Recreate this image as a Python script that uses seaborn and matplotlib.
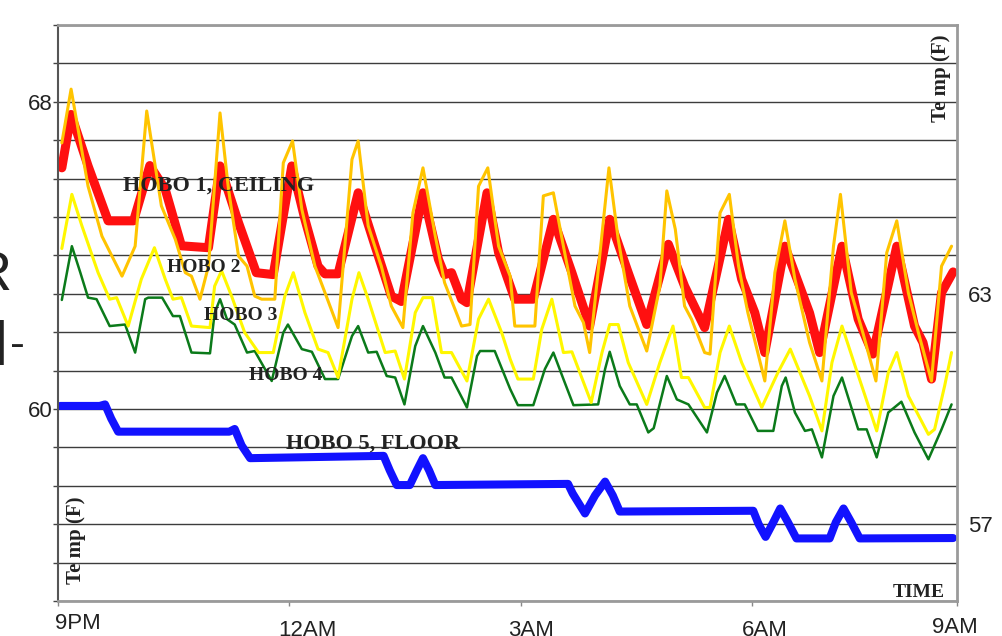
"""HOBO logger temperatures overnight, 9PM to 9AM."""

import matplotlib
matplotlib.use("Agg")  # headless rendering
import matplotlib.pyplot as plt
import matplotlib.transforms as mtransforms
import pandas as pd
import seaborn as sns

# hours after 9PM / temperature (F)
h1_hours = [0.05, 0.17, 0.39, 0.65, 0.98, 1.19, 1.39, 1.60, 1.95, 2.10, 2.34, 2.57,
            2.79, 3.03, 3.20, 3.37, 3.46, 3.63, 3.89, 4.11, 4.32, 4.45, 4.73, 4.93,
            5.01, 5.10, 5.23, 5.30, 5.56, 5.71, 5.92, 6.16, 6.42, 6.66, 6.89, 7.15,
            7.39, 7.63, 7.91, 8.12, 8.38, 8.69, 8.86, 9.03, 9.16, 9.42, 9.74, 9.87,
            10.16, 10.37, 10.56, 10.87, 11.10, 11.21, 11.32, 11.45, 11.60]
h1_temp = [66.28, 67.67, 66.33, 64.90, 64.90, 66.34, 65.72, 64.25, 64.20, 66.33, 64.85, 63.55,
           63.50, 66.33, 64.94, 63.72, 63.52, 63.52, 65.63, 64.24, 62.94, 62.80, 65.63, 63.90,
           63.50, 63.55, 62.86, 62.77, 65.63, 64.07, 62.86, 62.86, 64.94, 63.55, 62.16, 64.94,
           63.55, 62.20, 64.29, 63.20, 62.12, 64.94, 63.38, 62.51, 61.47, 64.24, 62.50, 61.47,
           64.24, 62.34, 61.43, 64.24, 62.16, 61.73, 60.78, 63.03, 63.57]

h2_hours = [0.05, 0.17, 0.39, 0.57, 0.83, 1.00, 1.15, 1.34, 1.52, 1.65, 1.73, 1.84,
            1.95, 2.10, 2.21, 2.34, 2.45, 2.55, 2.64, 2.81, 2.92, 3.04, 3.16, 3.33,
            3.46, 3.63, 3.81, 3.89, 4.02, 4.19, 4.32, 4.47, 4.60, 4.73, 4.89, 5.01,
            5.23, 5.34, 5.45, 5.57, 5.71, 5.86, 5.92, 6.18, 6.29, 6.42, 6.55, 6.70,
            6.81, 6.89, 7.07, 7.14, 7.26, 7.41, 7.63, 7.80, 7.89, 8.00, 8.12, 8.21,
            8.38, 8.45, 8.58, 8.70, 8.82, 8.94, 9.16, 9.29, 9.42, 9.55, 9.74, 9.90,
            10.05, 10.14, 10.28, 10.43, 10.60, 10.74, 10.87, 11.02, 11.15, 11.32, 11.45, 11.58]
h2_temp = [66.93, 68.33, 65.80, 64.50, 63.46, 64.24, 67.76, 65.29, 64.42, 63.55, 63.46, 62.86,
           63.72, 67.71, 65.72, 63.98, 63.72, 62.94, 62.86, 62.86, 66.41, 66.98, 65.20, 63.72,
           63.03, 62.12, 66.50, 66.98, 64.77, 63.72, 62.68, 62.12, 65.11, 66.28, 64.50, 63.29,
           62.16, 62.20, 65.80, 66.28, 64.24, 63.46, 62.16, 62.16, 65.55, 65.63, 64.24, 62.68,
           62.25, 61.47, 64.94, 66.28, 64.42, 62.68, 61.51, 63.20, 65.68, 64.68, 62.68, 62.34,
           61.47, 61.43, 65.11, 65.59, 63.72, 62.51, 60.73, 63.55, 64.90, 63.38, 61.73, 60.73,
           64.24, 65.59, 63.03, 61.99, 60.73, 64.07, 64.90, 63.03, 61.99, 60.73, 63.72, 64.24]

h3_hours = [0.05, 0.18, 0.31, 0.52, 0.67, 0.76, 0.91, 1.08, 1.25, 1.39, 1.49, 1.60,
            1.73, 1.97, 2.03, 2.12, 2.25, 2.42, 2.60, 2.79, 2.94, 3.05, 3.20, 3.37,
            3.50, 3.63, 3.81, 3.90, 4.02, 4.24, 4.37, 4.49, 4.63, 4.73, 4.85, 4.97,
            5.10, 5.30, 5.45, 5.58, 5.75, 5.86, 5.96, 6.16, 6.27, 6.40, 6.55, 6.66,
            6.91, 7.05, 7.15, 7.26, 7.39, 7.63, 7.80, 7.97, 8.08, 8.17, 8.38, 8.45,
            8.58, 8.70, 8.86, 9.12, 9.33, 9.49, 9.74, 9.90, 10.03, 10.16, 10.33, 10.46,
            10.61, 10.76, 10.87, 11.02, 11.28, 11.36, 11.49, 11.58]
h3_temp = [64.18, 65.59, 64.77, 63.55, 62.86, 62.90, 62.16, 63.38, 64.20, 63.38, 62.86, 62.90,
           62.16, 62.12, 63.20, 63.60, 62.94, 61.99, 61.47, 61.47, 62.94, 63.55, 62.51, 61.56,
           61.47, 60.82, 62.86, 63.55, 62.86, 61.47, 61.51, 60.78, 62.51, 62.90, 62.90, 61.47,
           61.47, 60.73, 62.34, 62.86, 61.99, 61.30, 60.78, 60.78, 62.08, 62.86, 61.47, 61.49,
           60.17, 61.47, 62.20, 62.20, 61.21, 60.12, 61.21, 62.16, 60.82, 60.82, 60.04, 60.04,
           61.47, 62.16, 61.21, 60.04, 60.95, 61.56, 60.34, 59.43, 61.21, 62.16, 61.12, 60.34,
           59.43, 60.95, 61.47, 60.34, 59.34, 59.47, 60.60, 61.47]

h4_hours = [0.05, 0.18, 0.29, 0.39, 0.50, 0.67, 0.87, 1.00, 1.13, 1.17, 1.35, 1.49,
            1.58, 1.73, 1.97, 2.03, 2.10, 2.19, 2.29, 2.45, 2.55, 2.77, 2.92, 2.98,
            3.16, 3.29, 3.46, 3.63, 3.81, 3.89, 4.02, 4.13, 4.26, 4.37, 4.49, 4.63,
            4.73, 4.89, 5.01, 5.10, 5.30, 5.43, 5.47, 5.66, 5.86, 5.96, 6.16, 6.31,
            6.42, 6.55, 6.68, 7.00, 7.09, 7.15, 7.28, 7.41, 7.50, 7.65, 7.72, 7.89,
            8.02, 8.17, 8.41, 8.54, 8.64, 8.79, 8.90, 9.07, 9.27, 9.38, 9.43, 9.55,
            9.68, 9.77, 9.90, 10.05, 10.16, 10.37, 10.48, 10.61, 10.76, 10.93, 11.10, 11.28,
            11.45, 11.58]
h4_temp = [62.84, 64.24, 63.55, 62.90, 62.86, 62.16, 62.20, 61.47, 62.86, 62.90, 62.90, 62.42,
           62.42, 61.47, 61.45, 62.50, 62.86, 62.34, 62.20, 61.47, 61.51, 60.73, 61.99, 62.20,
           61.56, 61.49, 60.78, 60.78, 61.90, 62.16, 61.47, 61.49, 60.86, 60.82, 60.12, 61.64,
           62.16, 61.47, 60.82, 60.82, 60.04, 61.38, 61.51, 61.51, 60.52, 60.10, 60.10, 61.04,
           61.47, 60.78, 60.10, 60.12, 61.04, 61.49, 60.60, 60.12, 60.12, 59.39, 59.50, 60.86,
           60.25, 60.12, 59.39, 60.43, 60.86, 60.12, 60.12, 59.43, 59.43, 60.60, 60.82, 59.91,
           59.43, 59.47, 58.74, 60.34, 60.82, 59.47, 59.47, 58.74, 59.91, 60.19, 59.39, 58.69,
           59.47, 60.12]

h5_hours = [0.03, 0.54, 0.61, 0.69, 0.78, 2.22, 2.29, 2.38, 2.49, 4.22, 4.30, 4.39,
            4.56, 4.65, 4.73, 4.81, 4.89, 6.61, 6.67, 6.83, 6.96, 7.09, 7.19, 7.28,
            9.01, 9.08, 9.17, 9.27, 9.36, 9.46, 9.57, 10.00, 10.08, 10.18, 10.28, 10.39,
            11.60]
h5_temp = [60.08, 60.08, 60.12, 59.75, 59.41, 59.41, 59.48, 59.05, 58.72, 58.78, 58.40, 58.02,
           58.02, 58.40, 58.72, 58.40, 58.02, 58.05, 57.80, 57.28, 57.75, 58.11, 57.75, 57.33,
           57.35, 57.00, 56.67, 57.05, 57.41, 57.05, 56.63, 56.63, 57.05, 57.41, 57.05, 56.63,
           56.64]

sensor_names = ["HOBO 5", "HOBO 4", "HOBO 3", "HOBO 1", "HOBO 2"]  # draw order
time_ticks = [0, 3, 6, 9, 11.65]
time_labels = ["9PM", "12AM", "3AM", "6AM", "9AM"]

colors = {"HOBO 1": "#ff1010", "HOBO 2": "#ffc400", "HOBO 3": "#fff700",
          "HOBO 4": "#0b7a1a", "HOBO 5": "#1212ff"}
widths = {"HOBO 1": 6.5, "HOBO 2": 2.2, "HOBO 3": 2.2, "HOBO 4": 1.8, "HOBO 5": 5.8}

series = {"HOBO 1": (h1_hours, h1_temp), "HOBO 2": (h2_hours, h2_temp),
          "HOBO 3": (h3_hours, h3_temp), "HOBO 4": (h4_hours, h4_temp),
          "HOBO 5": (h5_hours, h5_temp)}
df = pd.concat(
    [pd.DataFrame({"hours": t, "temp": v, "sensor": name}) for name, (t, v) in series.items()],
    ignore_index=True,
)

sns.set_style("white")
plt.rcParams["font.family"] = ["Liberation Sans", "DejaVu Sans"]
SERIF = ["Liberation Serif", "DejaVu Serif"]
INK = "#222222"

fig = plt.figure(figsize=(10.03, 6.36), dpi=100)
ax = fig.add_axes([0.0578, 0.055, 0.8963, 0.9057])

sns.lineplot(
    data=df, x="hours", y="temp",
    hue="sensor", hue_order=sensor_names, palette=colors,
    size="sensor", size_order=sensor_names, sizes=widths,
    estimator=None, sort=False, legend=False, ax=ax,
    solid_capstyle="round", solid_joinstyle="round",
)

ax.set_xlim(0, 11.65)
ax.set_ylim(55, 70)
ax.set_xlabel("")
ax.set_ylabel("")

# horizontal grid every degree, only 68 and 60 labelled on the left
yvals = list(range(55, 71))
ax.set_yticks(yvals, [str(v) if v in (60, 68) else "" for v in yvals])
ax.set_axisbelow(True)
ax.yaxis.grid(True, color="#3c3c3c", linewidth=1.0)
ax.xaxis.grid(False)
ax.tick_params(axis="y", left=True, length=3.6, width=1, color="#444444",
               pad=0.5, labelsize=16, labelcolor=INK)

ax.set_xticks(time_ticks, time_labels)
ax.tick_params(axis="x", bottom=True, length=3.6, width=1, color="#888888",
               pad=5, labelsize=16, labelcolor=INK)
# shift each time label (pixels) like in the original
shifts = [(-3, 0), (-11.5, -7), (-13, -7), (-10.5, -7), (-25, -4)]
for lab, (dx, dy) in zip(ax.get_xticklabels(), shifts):
    lab.set_horizontalalignment("left")
    lab.set_transform(lab.get_transform()
                      + mtransforms.ScaledTranslation(dx / 100, dy / 100, fig.dpi_scale_trans))

ax.spines["left"].set(color="#555555", linewidth=1.5)
for side in ("top", "right", "bottom"):
    ax.spines[side].set(color="#9a9a9a", linewidth=2)

# right-hand labels
ax2 = ax.twinx()
ax2.set_ylim(55, 70)
ax2.set_yticks([57, 63], ["57", "63"])
ax2.tick_params(axis="y", right=True, length=0, pad=8, labelsize=16, labelcolor=INK)
for s in ax2.spines.values():
    s.set_visible(False)
ax2.grid(False)

# in-plot labels
label_kw = dict(fontweight="bold", family=SERIF, color=INK)
ax.text(0.84, 65.70, "HOBO 1, CEILING", fontsize=16, **label_kw)
ax.text(1.41, 63.57, "HOBO 2", fontsize=14, **label_kw)
ax.text(1.89, 62.32, "HOBO 3", fontsize=14, **label_kw)
ax.text(2.47, 60.76, "HOBO 4", fontsize=14, **label_kw)
ax.text(2.95, 58.98, "HOBO 5, FLOOR", fontsize=16, **label_kw)
ax.text(11.49, 55.10, "TIME", fontsize=14, ha="right", **label_kw)
ax.text(0.23, 56.59, "Te mp (F)", fontsize=15, rotation=90,
        ha="center", va="center", **label_kw)
ax.text(11.44, 68.62, "Te mp (F)", fontsize=15, rotation=90,
        ha="center", va="center", **label_kw)

# cut-off letters from the page margin
fig.text(-0.028, 0.544, "R", fontsize=40, color=INK)
fig.text(-0.009, 0.426, "I", fontsize=46, color=INK)
fig.text(0.010, 0.439, "-", fontsize=32, color=INK)

fig.savefig("out.png", dpi=100)
plt.close(fig)
